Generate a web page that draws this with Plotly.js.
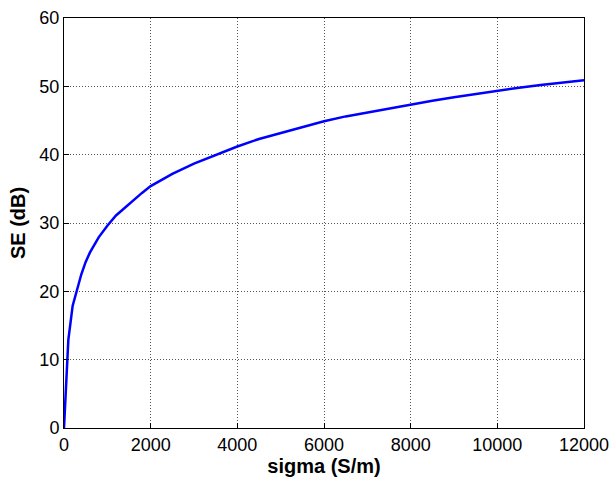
<!DOCTYPE html>
<html>
<head>
<meta charset="utf-8">
<script src="https://cdn.plot.ly/plotly-3.0.1.min.js"></script>
<style>html,body{margin:0;padding:0;background:#fff;}#chart{width:613px;height:479px;}</style>
</head>
<body>
<div id="chart"></div>
<script>
const sigma = [0, 100, 200, 300, 400, 500, 600, 800, 1000, 1200, 1500, 1800, 2000, 2500, 3000, 3500, 4000, 4500, 5000, 5500, 6000, 6500, 7000, 7500, 8000, 8500, 9000, 9500, 10000, 10500, 11000, 11500, 12000];
const seDb = [0, 12.9, 17.9, 20.3, 22.5, 24.3, 25.7, 27.9, 29.6, 31.1, 32.8, 34.4, 35.4, 37.2, 38.7, 40.0, 41.2, 42.3, 43.2, 44.1, 44.9, 45.6, 46.2, 46.8, 47.4, 47.9, 48.4, 48.9, 49.3, 49.8, 50.2, 50.6, 50.9];
const xTicks = [0, 2000, 4000, 6000, 8000, 10000, 12000];
const yTicks = [0, 10, 20, 30, 40, 50, 60];

const font = 'Liberation Sans, Arial, sans-serif';
const axisCommon = {
  showline: true, linecolor: '#000', linewidth: 1, mirror: true,
  showgrid: true, gridcolor: '#555', griddash: '1px,2px', gridwidth: 1,
  zeroline: false, ticks: 'inside', ticklen: 5, tickcolor: '#000',
  tickfont: {family: font, size: 18, color: '#000'}
};
Plotly.newPlot('chart', [{
  x: sigma, y: seDb, type: 'scatter', mode: 'lines',
  line: {color: '#0000ff', width: 2.5}, hoverinfo: 'skip'
}], {
  width: 613, height: 479,
  margin: {l: 64, r: 29, t: 18, b: 51},
  paper_bgcolor: '#fff', plot_bgcolor: '#fff',
  showlegend: false,
  xaxis: Object.assign({}, axisCommon, {
    range: [0, 12000], tickvals: xTicks, ticktext: xTicks.map(String),
    title: {text: '<b>sigma (S/m)</b>', font: {family: font, size: 20, color: '#000'}, standoff: 4}
  }),
  yaxis: Object.assign({}, axisCommon, {
    range: [0, 60], tickvals: yTicks, ticktext: yTicks.map(String),
    title: {text: '<b>SE (dB)</b>', font: {family: font, size: 20, color: '#000'}, standoff: 8}
  })
}, {displayModeBar: false, staticPlot: true});
</script>
</body>
</html>
